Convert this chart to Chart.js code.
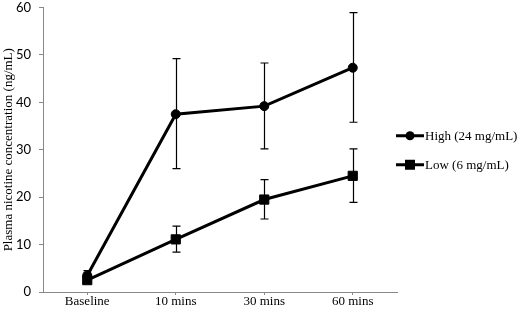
<!DOCTYPE html>
<html><head><meta charset="utf-8">
<script src="https://cdn.jsdelivr.net/npm/chart.js@4/dist/chart.umd.min.js"></script>
<style>html,body{margin:0;padding:0;background:#fff}#wrap{width:517px;height:312px}</style>
</head><body><div id="wrap"><canvas id="c" width="517" height="312"></canvas></div>
<script>
const categories = ["Baseline", "10 mins", "30 mins", "60 mins"];
const highValues = [3.5, 37.5, 39.2, 47.3];
const highErrHi = [4.5, 49.2, 48.3, 58.9];
const highErrLo = [2.5, 26.0, 30.2, 35.8];
const lowValues = [2.5, 11.1, 19.5, 24.5];
const lowErrHi = [3.0, 13.9, 23.7, 30.2];
const lowErrLo = [2.0, 8.4, 15.4, 18.9];
const seriesNames = ["High (24 mg/mL)", "Low (6 mg/mL)"];
const yTicks = [0, 10, 20, 30, 40, 50, 60];

const errBars = [
  {hi: highErrHi, lo: highErrLo},
  {hi: lowErrHi, lo: lowErrLo}
];

const errorPlugin = {
  id: 'errbars',
  beforeDatasetsDraw(chart) {
    const ctx = chart.ctx, x = chart.scales.x, y = chart.scales.y;
    ctx.save();
    ctx.strokeStyle = '#000';
    ctx.lineWidth = 1.2;
    errBars.forEach(e => {
      categories.forEach((c, i) => {
        const px = Math.round(x.getPixelForValue(i)) + 0.5;
        const top = y.getPixelForValue(e.hi[i]), bot = y.getPixelForValue(e.lo[i]);
        ctx.beginPath();
        ctx.moveTo(px, top); ctx.lineTo(px, bot);
        ctx.moveTo(px - 4, top); ctx.lineTo(px + 4, top);
        ctx.moveTo(px - 4, bot); ctx.lineTo(px + 4, bot);
        ctx.stroke();
      });
    });
    ctx.restore();
  }
};

const legendPlugin = {
  id: 'customLegend',
  afterDraw(chart) {
    const ctx = chart.ctx;
    const area = chart.chartArea;
    const cy = (area.top + area.bottom) / 2;
    const items = [
      {name: seriesNames[0], style: 'circle', y: cy - 14},
      {name: seriesNames[1], style: 'rect', y: cy + 15}
    ];
    ctx.save();
    items.forEach(it => {
      const x0 = 396, x1 = 424, xm = 410;
      ctx.strokeStyle = '#000'; ctx.lineWidth = 3;
      ctx.beginPath(); ctx.moveTo(x0, it.y); ctx.lineTo(x1, it.y); ctx.stroke();
      ctx.fillStyle = '#000';
      if (it.style === 'circle') {
        ctx.beginPath(); ctx.arc(xm, it.y, 4.5, 0, Math.PI * 2); ctx.fill();
      } else {
        ctx.fillRect(xm - 5, it.y - 5, 10, 10);
      }
      ctx.font = '13px "Liberation Serif"';
      ctx.textBaseline = 'middle';
      ctx.textAlign = 'left';
      ctx.fillText(it.name, x1 + 1, it.y + 1);
    });
    ctx.restore();
  }
};

new Chart(document.getElementById('c'), {
  type: 'line',
  data: {
    labels: categories,
    datasets: [
      {label: seriesNames[0], data: highValues, borderColor: '#000', backgroundColor: '#000',
       borderWidth: 3, pointStyle: 'circle', pointRadius: 4.5, pointBorderWidth: 1, tension: 0},
      {label: seriesNames[1], data: lowValues, borderColor: '#000', backgroundColor: '#000',
       borderWidth: 3, pointStyle: 'rect', pointRadius: 6.5, pointBorderWidth: 1, tension: 0}
    ]
  },
  options: {
    responsive: false,
    animation: false,
    events: [],
    layout: {padding: {top: 0, right: 120, left: 1, bottom: 0}},
    plugins: {legend: {display: false}, tooltip: {enabled: false}},
    scales: {
      x: {
        offset: true,
        afterFit(s) { s.height = 20; s.paddingLeft = 0; s.paddingRight = 0; },
        grid: {display: true, drawOnChartArea: false, drawTicks: true, tickLength: 3, color: '#888', offset: false},
        border: {color: '#888', width: 1},
        ticks: {color: '#000', font: {family: '"Liberation Serif"', size: 13, lineHeight: 1}, padding: 0, maxRotation: 0}
      },
      y: {
        min: 0, max: 60,
        afterBuildTicks(s) { s.ticks = yTicks.map(v => ({value: v})); },
        afterFit(s) { s.width = 42; s.paddingTop = 3; s.paddingBottom = 0; },
        grid: {display: true, drawOnChartArea: false, drawTicks: true, tickLength: 4, color: '#888'},
        border: {color: '#888', width: 1},
        ticks: {color: '#000', font: {family: 'Lato', size: 13}, padding: 8},
        title: {display: true, text: 'Plasma nicotine concentration (ng/mL)', color: '#000',
                font: {family: '"Liberation Serif"', size: 13}, padding: {top: 0, bottom: 0}}
      }
    }
  },
  plugins: [errorPlugin, legendPlugin]
});
</script>
</body></html>
